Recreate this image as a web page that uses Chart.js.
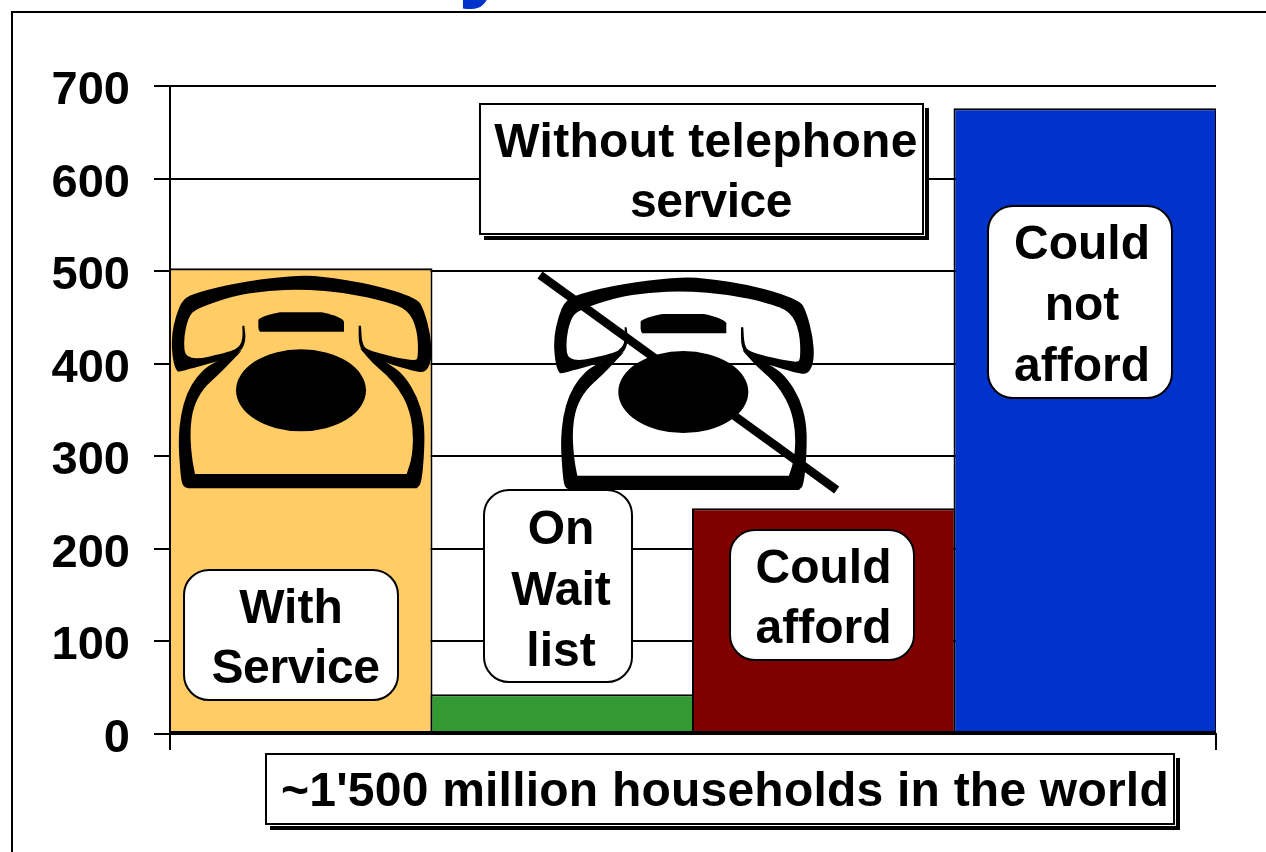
<!DOCTYPE html>
<html lang="en">
<head>
<meta charset="UTF-8">
<title>Households with and without telephone service</title>
<script src="https://cdn.jsdelivr.net/npm/chart.js"></script>
<style>
    html, body {
        margin: 0;
        padding: 0;
        width: 1266px;
        height: 852px;
        overflow: hidden;
        background: white;
        font-family: "Liberation Sans", Arial, sans-serif;
        font-weight: bold;
        color: black;
    }
    #page { position: relative; width: 1266px; height: 852px; overflow: hidden; }
    #frame {
        position: absolute; left: 11px; top: 11px;
        width: 1400px; height: 1000px;
        border: 2px solid black;
    }
    #title-tail {
        position: absolute; left: 458px; top: -92px;
        font-size: 96px; line-height: 96px; color: #0033cc;
    }
    canvas { position: absolute; left: 0; top: 0; }
    #phones { position: absolute; left: 0; top: 0; pointer-events: none; }

    .note {
        position: absolute;
        box-sizing: border-box;
        display: flex;
        flex-direction: column;
        justify-content: center;
        align-items: center;
        background: white;
        border: 2px solid black;
        font-size: 48px;
        line-height: 60px;
        text-align: center;
        white-space: nowrap;
    }
    .round { border-radius: 26px; }
    .tall { line-height: 61px; }
    .shadow { box-shadow: 1px 1px 0 white, 5px 5px 0 black; }
</style>
</head>
<body>
<div id="page">
    <div id="frame"></div>
    <div id="title-tail">y</div>
    <canvas id="households" width="1266" height="852"></canvas>

    <svg id="phones" width="1266" height="852" viewBox="0 0 1266 852">
        <defs>
            <g id="phone" transform="scale(0.33333)">
                <path id="handset"/>
                <path id="body"/>
                <ellipse cx="423" cy="391" rx="195" ry="123"/>
                <path d="M295,180 Q300,170 360,157 L485,157 Q545,170 552,185 L552,215 L300,215 Q295,210 295,200 Z"/>
            </g>
        </defs>
        <use href="#phone" transform="translate(160 260)"/>
        <use href="#phone" transform="translate(542.3 261.7)"/>
        <line x1="540" y1="275" x2="836.7" y2="490" stroke="black" stroke-width="8.5"/>
    </svg>

    <div class="note shadow" style="left:479px; top:103px; width:445px; height:132px; padding:4px 0 0 9px;"><span style="letter-spacing:0.3px">Without telephone</span><span style="letter-spacing:-0.5px; margin-left:10px">service</span></div>
    <div class="note round" style="left:183px; top:569px; width:216px; height:132px; padding-top:3px;"><span>With</span><span style="letter-spacing:-0.4px; margin-left:9px">Service</span></div>
    <div class="note round tall" style="left:483px; top:489px; width:150px; height:194px; padding:4px 0 0 6px;"><span>On</span><span>Wait</span><span>list</span></div>
    <div class="note round" style="left:729px; top:529px; width:186px; height:132px; padding:3px 0 0 3px;"><span>Could</span><span>afford</span></div>
    <div class="note round tall" style="left:987px; top:205px; width:186px; height:194px; padding:3px 0 0 4px;"><span>Could</span><span>not</span><span>afford</span></div>
    <div class="note shadow" style="left:265px; top:753px; width:910px; height:72px; padding:2px 0 0 10px;"><span style="letter-spacing:0.22px">~1'500 million households in the world</span></div>
</div>

<script>
    // millions of households
    const categories = ['With Service', 'On Wait list', 'Could afford', 'Could not afford'];
    const households = [503, 43, 244, 676];
    const barColors = ['#ffcc66', '#339933', '#800000', '#0033cc'];
    const yTicks = [0, 100, 200, 300, 400, 500, 600, 700];

    // closed outline through segment midpoints; a doubled point stays a hard corner
    function outline(pts) {
        const mid = (a, b) => [(a[0] + b[0]) / 2, (a[1] + b[1]) / 2];
        const start = mid(pts[pts.length - 1], pts[0]);
        let d = 'M' + start.join(',');
        pts.forEach((p, i) => {
            const end = mid(p, pts[(i + 1) % pts.length]);
            d += ' Q' + p.join(',') + ' ' + end.join(',');
        });
        return d + ' Z';
    }

    document.getElementById('handset').setAttribute('d', outline([
        [50, 335], [38, 300], [34, 230], [48, 165], [68, 118], [110, 97], [240, 66], [400, 47], [480, 48], [640, 73],
        [772, 115], [792, 150], [812, 225], [816, 295], [800, 335], [770, 337], [620, 290], [596, 258],
        [596, 197], [596, 197], [603, 197], [603, 197], [606, 250], [622, 272], [765, 305], [775, 290], [772, 210],
        [745, 150], [680, 125], [560, 98], [430, 88], [320, 92], [220, 108], [110, 145], [85, 170], [70, 240], [78, 305],
        [215, 275], [240, 258], [248, 235], [247, 197], [247, 197], [253, 197], [253, 197], [258, 240], [245, 272], [215, 292], [60, 335]
    ]));
    document.getElementById('body').setAttribute('d', outline([
        [245, 272], [245, 272], [150, 312], [110, 350], [80, 400], [62, 465], [55, 540], [60, 625], [66, 678], [85, 685], [85, 685],
        [770, 685], [770, 685], [785, 670], [794, 560], [792, 480], [772, 410], [735, 350], [695, 315], [600, 265], [600, 265],
        [640, 312], [680, 345], [715, 385], [745, 440], [760, 510], [757, 590], [740, 642], [740, 642],
        [105, 642], [105, 642], [95, 590], [90, 510], [100, 440], [130, 385], [180, 340]
    ]));

    const ctx = document.getElementById('households').getContext('2d');

    new Chart(ctx, {
        type: 'bar',
        data: {
            labels: categories,
            datasets: [{
                data: households,
                backgroundColor: barColors,
                borderColor: 'black',
                borderWidth: 2,
                borderSkipped: false,
                // slight overlap so neighbouring bars share one dividing line
                barPercentage: 1.0076,
                categoryPercentage: 1
            }]
        },
        options: {
            responsive: false,
            animation: false,
            layout: { padding: { left: 0, top: 86, right: 50, bottom: 102 } },
            plugins: { legend: { display: false }, tooltip: { enabled: false } },
            scales: {
                x: {
                    afterFit: (scale) => { scale.height = 16; },
                    border: { color: 'black', width: 2 },
                    ticks: { display: false },
                    grid: {
                        drawOnChartArea: false,
                        tickLength: 16,
                        lineWidth: 2,
                        // only the two outer ends of the axis get a tick
                        tickColor: (c) => (c.index === 0 || c.index === undefined) ? 'black' : 'transparent'
                    }
                },
                y: {
                    min: 0,
                    max: 700,
                    afterFit: (scale) => { scale.width = 170; },
                    afterBuildTicks: (scale) => { scale.ticks = yTicks.map((v) => ({ value: v })); },
                    border: { color: 'black', width: 2 },
                    ticks: {
                        color: 'black',
                        padding: 24,
                        // empty first line pushes the number a few px below its gridline
                        callback: (v) => ['', String(v)],
                        font: { family: '"Liberation Sans"', size: 47, weight: 'bold', lineHeight: '10px' }
                    },
                    grid: { color: 'black', lineWidth: 2, tickLength: 16 }
                }
            }
        }
    });
</script>
</body>
</html>
